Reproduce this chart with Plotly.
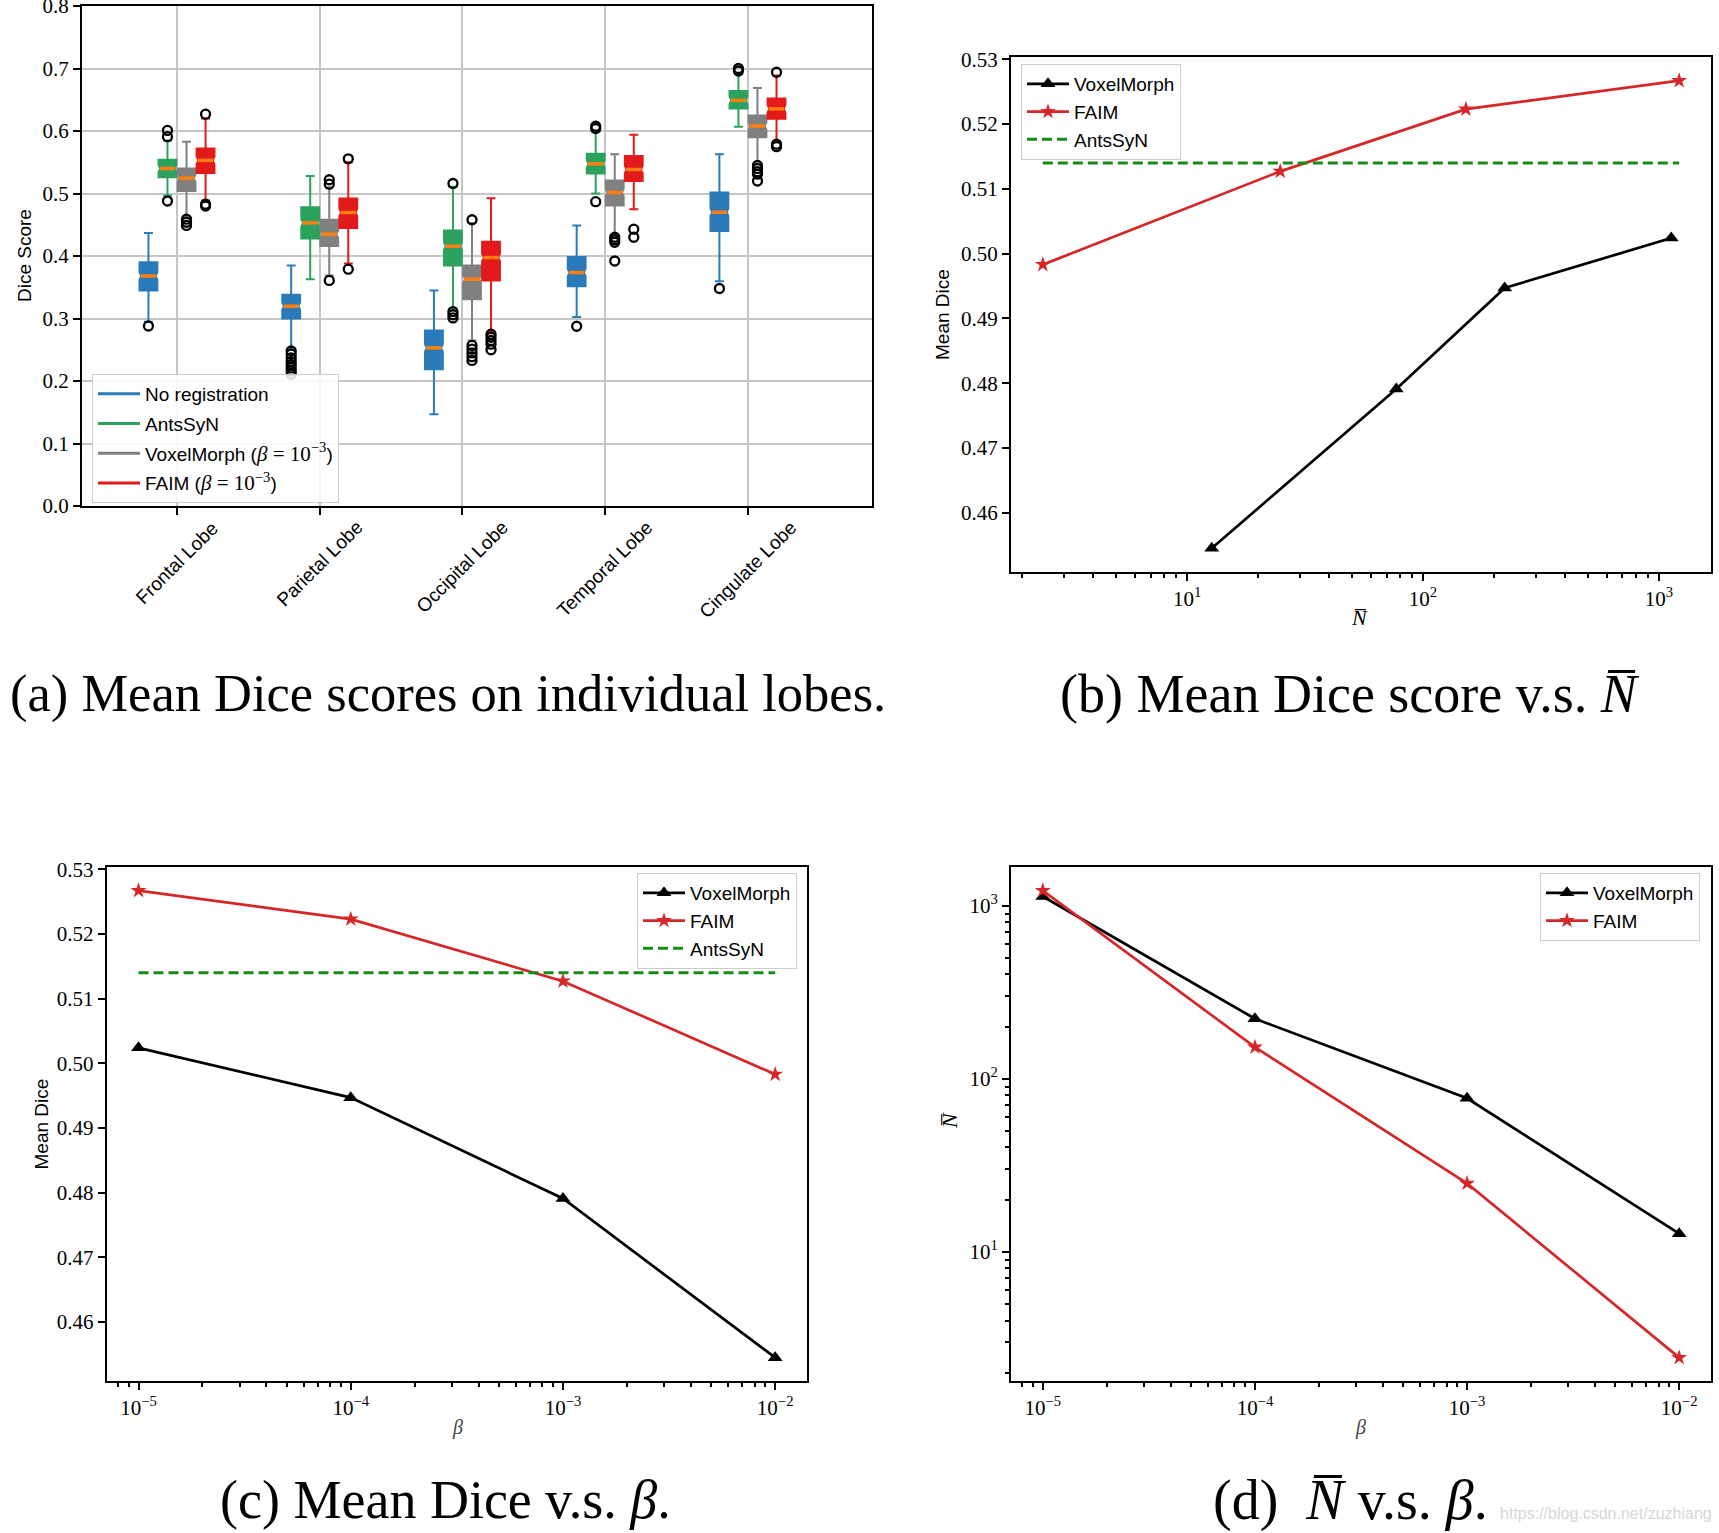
import math
import plotly.graph_objects as go

W, H = 1719, 1533


def px(x):
    return x / W


def py(y):
    return 1 - y / H


SANS = "Liberation Sans"
SERIF = "Liberation Serif"

# ---------------- (a) box plot data ----------------
lobes = ["Frontal Lobe", "Parietal Lobe", "Occipital Lobe", "Temporal Lobe", "Cingulate Lobe"]
MATH = "<span style='font-family:Liberation Serif;font-size:21px'><i>β</i> = 10<sup>−3</sup></span>"
method_names = [
    "No registration",
    "AntsSyN",
    "VoxelMorph (" + MATH + ")",
    "FAIM (" + MATH + ")",
]
method_colors = ["#2b7bba", "#2ca25f", "#808080", "#e31a1c"]
method_offsets = [-0.2, -0.0667, 0.0667, 0.2]

noreg_low = [0.295, 0.252, 0.147, 0.3026, 0.3596]
noreg_q1 = [0.345, 0.300, 0.219, 0.3516, 0.440]
noreg_med = [0.368, 0.3196, 0.253, 0.3735, 0.470]
noreg_q3 = [0.390, 0.338, 0.281, 0.3986, 0.5016]
noreg_high = [0.437, 0.385, 0.345, 0.449, 0.563]
noreg_out = [[0.288], [0.248, 0.243, 0.237, 0.231, 0.226, 0.221, 0.216, 0.211], [], [0.2876], [0.348]]

ants_low = [0.497, 0.363, 0.316, 0.500, 0.607]
ants_q1 = [0.526, 0.428, 0.385, 0.532, 0.636]
ants_med = [0.540, 0.453, 0.4157, 0.5475, 0.649]
ants_q3 = [0.554, 0.478, 0.441, 0.5635, 0.664]
ants_high = [0.585, 0.528, 0.511, 0.599, 0.692]
ants_out = [[0.601, 0.591, 0.488], [], [0.516, 0.311, 0.306, 0.301], [0.6078, 0.604, 0.487], [0.700, 0.696]]

vm_low = [0.463, 0.369, 0.265, 0.433, 0.548]
vm_q1 = [0.504, 0.416, 0.331, 0.481, 0.590]
vm_med = [0.5245, 0.435, 0.363, 0.5016, 0.608]
vm_q3 = [0.540, 0.458, 0.385, 0.521, 0.625]
vm_high = [0.583, 0.510, 0.453, 0.563, 0.669]
vm_out = [[0.459, 0.454, 0.449], [0.522, 0.515, 0.361], [0.458, 0.257, 0.251, 0.245, 0.239, 0.233],
          [0.430, 0.426, 0.422, 0.392], [0.545, 0.540, 0.535, 0.531, 0.520]]

faim_low = [0.489, 0.388, 0.279, 0.475, 0.583]
faim_q1 = [0.533, 0.445, 0.361, 0.520, 0.6195]
faim_med = [0.553, 0.4696, 0.3975, 0.5384, 0.6355]
faim_q3 = [0.572, 0.492, 0.423, 0.560, 0.652]
faim_high = [0.620, 0.550, 0.4925, 0.594, 0.689]
faim_out = [[0.627, 0.483, 0.480], [0.5555, 0.379], [0.275, 0.270, 0.265, 0.259, 0.250], [0.443, 0.430],
            [0.694, 0.579, 0.575]]

box_stats = [
    (noreg_low, noreg_q1, noreg_med, noreg_q3, noreg_high, noreg_out),
    (ants_low, ants_q1, ants_med, ants_q3, ants_high, ants_out),
    (vm_low, vm_q1, vm_med, vm_q3, vm_high, vm_out),
    (faim_low, faim_q1, faim_med, faim_q3, faim_high, faim_out),
]
dice_ticks = [0.0, 0.1, 0.2, 0.3, 0.4, 0.5, 0.6, 0.7, 0.8]

# ---------------- (b)-(d) line data ----------------
beta = [1e-5, 1e-4, 1e-3, 1e-2]
vm_dice = [0.5024, 0.4947, 0.4791, 0.4545]
faim_dice = [0.5267, 0.5223, 0.5127, 0.4983]
vm_nbar = [1129, 222, 77, 12.7]
faim_nbar = [1220, 152, 24.8, 2.44]
antssyn_dice = 0.514

beta_ticks = [1e-5, 1e-4, 1e-3, 1e-2]
beta_ticktext = ["10<sup>−5</sup>", "10<sup>−4</sup>", "10<sup>−3</sup>", "10<sup>−2</sup>"]
nbar_ticks = [10, 100, 1000]
nbar_ticktext = ["10<sup>1</sup>", "10<sup>2</sup>", "10<sup>3</sup>"]
mean_dice_ticks = [0.46, 0.47, 0.48, 0.49, 0.50, 0.51, 0.52, 0.53]

fig = go.Figure()

# ---------- (a) ----------
for k in range(4):
    low, q1, med, q3, high, outs = box_stats[k]
    xs = [i + 1 + method_offsets[k] for i in range(len(lobes))]
    fig.add_trace(go.Box(
        x=xs, q1=q1, median=med, q3=q3, lowerfence=low, upperfence=high,
        notched=True, notchspan=[0.006] * len(xs), notchwidth=0.1,
        width=0.125, whiskerwidth=0.5, boxpoints=False,
        fillcolor=method_colors[k], line=dict(color=method_colors[k], width=2),
        showlegend=False, xaxis="x", yaxis="y", hoverinfo="skip",
    ))
    ox, oy = [], []
    for i in range(len(lobes)):
        for v in outs[i]:
            ox.append(xs[i])
            oy.append(v)
    fig.add_trace(go.Scatter(
        x=ox, y=oy, mode="markers", showlegend=False, xaxis="x", yaxis="y",
        marker=dict(symbol="circle-open", size=9, color="black", line=dict(width=2.3, color="black")),
        hoverinfo="skip",
    ))
    fig.add_trace(go.Scatter(
        x=xs, y=med, mode="markers", showlegend=False, xaxis="x", yaxis="y",
        marker=dict(symbol="line-ew", size=11, color="#ff7f0e", line=dict(width=3.5, color="#ff7f0e")),
        hoverinfo="skip",
    ))
    fig.add_trace(go.Scatter(
        x=[None], y=[None], mode="lines", name=method_names[k], legend="legend",
        line=dict(color=method_colors[k], width=3), xaxis="x", yaxis="y",
        legendgroup=f"a{k}",
    ))

LW = 2.7
DASH = "10px,5px"
GREEN = "#178a17"
RED = "#d62728"

# ---------- (b) ----------
fig.add_trace(go.Scatter(
    x=vm_nbar, y=vm_dice, mode="lines+markers", name="VoxelMorph", legend="legend2",
    line=dict(color="black", width=LW), marker=dict(symbol="triangle-up", size=13, color="black"),
    xaxis="x2", yaxis="y2", legendgroup="b0",
))
fig.add_trace(go.Scatter(
    x=faim_nbar, y=faim_dice, mode="lines+markers", name="FAIM", legend="legend2",
    line=dict(color=RED, width=LW), marker=dict(symbol="star", size=12, color=RED),
    xaxis="x2", yaxis="y2", legendgroup="b1",
))
fig.add_trace(go.Scatter(
    x=[min(faim_nbar), max(faim_nbar)], y=[antssyn_dice, antssyn_dice], mode="lines", name="AntsSyN",
    legend="legend2", line=dict(color=GREEN, width=3, dash=DASH),
    xaxis="x2", yaxis="y2", legendgroup="b2",
))

# ---------- (c) ----------
fig.add_trace(go.Scatter(
    x=beta, y=vm_dice, mode="lines+markers", name="VoxelMorph", legend="legend3",
    line=dict(color="black", width=LW), marker=dict(symbol="triangle-up", size=13, color="black"),
    xaxis="x3", yaxis="y3", legendgroup="c0",
))
fig.add_trace(go.Scatter(
    x=beta, y=faim_dice, mode="lines+markers", name="FAIM", legend="legend3",
    line=dict(color=RED, width=LW), marker=dict(symbol="star", size=12, color=RED),
    xaxis="x3", yaxis="y3", legendgroup="c1",
))
fig.add_trace(go.Scatter(
    x=[min(beta), max(beta)], y=[antssyn_dice, antssyn_dice], mode="lines", name="AntsSyN",
    legend="legend3", line=dict(color=GREEN, width=3, dash=DASH),
    xaxis="x3", yaxis="y3", legendgroup="c2",
))

# ---------- (d) ----------
fig.add_trace(go.Scatter(
    x=beta, y=vm_nbar, mode="lines+markers", name="VoxelMorph", legend="legend4",
    line=dict(color="black", width=LW), marker=dict(symbol="triangle-up", size=13, color="black"),
    xaxis="x4", yaxis="y4", legendgroup="d0",
))
fig.add_trace(go.Scatter(
    x=beta, y=faim_nbar, mode="lines+markers", name="FAIM", legend="legend4",
    line=dict(color=RED, width=LW), marker=dict(symbol="star", size=12, color=RED),
    xaxis="x4", yaxis="y4", legendgroup="d1",
))


def log_range(vals):
    lo, hi = math.log10(min(vals)), math.log10(max(vals))
    m = 0.05 * (hi - lo)
    return [lo - m, hi + m]


def lin_range(vals):
    lo, hi = min(vals), max(vals)
    m = 0.05 * (hi - lo)
    return [lo - m, hi + m]


def minor_vals(lo_exp, hi_exp):
    out = []
    for e in range(lo_exp, hi_exp + 1):
        for m in range(2, 10):
            out.append(m * 10 ** e)
    return out


tickfont = dict(family=SERIF, size=21, color="black")
common = dict(showline=True, mirror=True, linecolor="black", linewidth=2, ticks="outside",
              ticklen=7, tickwidth=2, tickcolor="black", tickfont=tickfont, zeroline=False,
              automargin=False, ticklabeloverflow="allow")
minor_style = dict(ticks="outside", ticklen=4, tickwidth=1.5, tickcolor="black", showgrid=False)

all_dice = vm_dice + faim_dice
all_nbar = vm_nbar + faim_nbar

fig.update_layout(
    width=W, height=H, autosize=False,
    margin=dict(l=0, r=0, t=0, b=0, autoexpand=False),
    paper_bgcolor="white", plot_bgcolor="white",
    font=dict(family=SANS, size=19, color="black"),
    xaxis=dict(domain=[px(82), px(872)], anchor="y", range=[0.3345, 5.869], tickvals=[1, 2, 3, 4, 5],
               showticklabels=False, showgrid=True, gridcolor="#c6c6c6", gridwidth=1.6, **common),
    yaxis=dict(domain=[py(506), py(6)], anchor="x", range=[0, 0.8], tickvals=dice_ticks, tickformat=".1f",
               showgrid=True, gridcolor="#c6c6c6", gridwidth=1.6, **common),
    xaxis2=dict(domain=[px(1011), px(1711)], anchor="y2", type="log", range=log_range(all_nbar),
                tickvals=nbar_ticks, ticktext=nbar_ticktext, showgrid=False,
                minor=dict(tickvals=minor_vals(0, 3), **minor_style), **common),
    yaxis2=dict(domain=[py(571.7), py(57.3)], anchor="x2", range=lin_range(all_dice),
                tickvals=mean_dice_ticks, tickformat=".2f", showgrid=False, **common),
    xaxis3=dict(domain=[px(106.7), px(807)], anchor="y3", type="log", range=log_range(beta),
                tickvals=beta_ticks, ticktext=beta_ticktext, showgrid=False,
                minor=dict(tickvals=minor_vals(-6, -2), **minor_style), **common),
    yaxis3=dict(domain=[py(1381), py(867.3)], anchor="x3", range=lin_range(all_dice),
                tickvals=mean_dice_ticks, tickformat=".2f", showgrid=False, **common),
    xaxis4=dict(domain=[px(1011), px(1711)], anchor="y4", type="log", range=log_range(beta),
                tickvals=beta_ticks, ticktext=beta_ticktext, showgrid=False,
                minor=dict(tickvals=minor_vals(-6, -2), **minor_style), **common),
    yaxis4=dict(domain=[py(1381), py(867.3)], anchor="x4", type="log", range=log_range(all_nbar),
                tickvals=nbar_ticks, ticktext=nbar_ticktext, showgrid=False,
                minor=dict(tickvals=minor_vals(0, 3), **minor_style), **common),
)

leg_common = dict(bgcolor="rgba(255,255,255,0.85)", bordercolor="#cccccc", borderwidth=1,
                  font=dict(family=SANS, size=19, color="black"), traceorder="grouped",
                  tracegroupgap=0, itemwidth=42, yanchor="top")
fig.update_layout(
    legend=dict(x=px(92), y=py(374), xanchor="left", **dict(leg_common, tracegroupgap=2)),
    legend2=dict(x=px(1021), y=py(64), xanchor="left", **leg_common),
    legend3=dict(x=px(797), y=py(873), xanchor="right", **leg_common),
    legend4=dict(x=px(1700), y=py(873), xanchor="right", **leg_common),
)

NBAR = "<i>N\u0305</i>"
ann = []
# category labels (a)
for i, name in enumerate(lobes):
    ann.append(dict(x=i + 1, xref="x", y=py(514), yref="paper", text=name, textangle=-45,
                    xanchor="center", yanchor="top", showarrow=False,
                    font=dict(family=SANS, size=19, color="black")))


def label(text, x, y, angle=0, fam=SANS, size=19, color="black"):
    ann.append(dict(x=px(x), y=py(y), xref="paper", yref="paper", text=text, textangle=angle,
                    xanchor="center", yanchor="middle", showarrow=False,
                    font=dict(family=fam, size=size, color=color)))


label("Dice Score", 24, 256, -90)
label("Mean Dice", 943, 315, -90)
label(NBAR, 1359, 617, 0, SERIF, 22)
label("Mean Dice", 40.5, 1124, -90)
label("<i>β</i>", 457, 1427, 0, SERIF, 20, "#444444")
label(NBAR, 949, 1120, -90, SERIF, 22)
label("<i>β</i>", 1360, 1427, 0, SERIF, 20, "#444444")

label("(a) Mean Dice scores on individual lobes.", 448, 693, 0, SERIF, 52.5)
label("(b) Mean Dice score v.s. " + NBAR, 1350, 694, 0, SERIF, 54)
label("(c) Mean Dice v.s. <i>β</i>.", 445, 1500, 0, SERIF, 54)
label("(d)  " + NBAR + " v.s. <i>β</i>.", 1350, 1500, 0, SERIF, 56)
label("https://blog.csdn.net/zuzhiang", 1606, 1513, 0, SANS, 16, "#d6d6d6")

fig.update_layout(annotations=ann)

fig.write_html("out.html", config={"displayModeBar": False},
               post_script="document.body.style.margin='0';document.body.style.overflow='hidden';")
